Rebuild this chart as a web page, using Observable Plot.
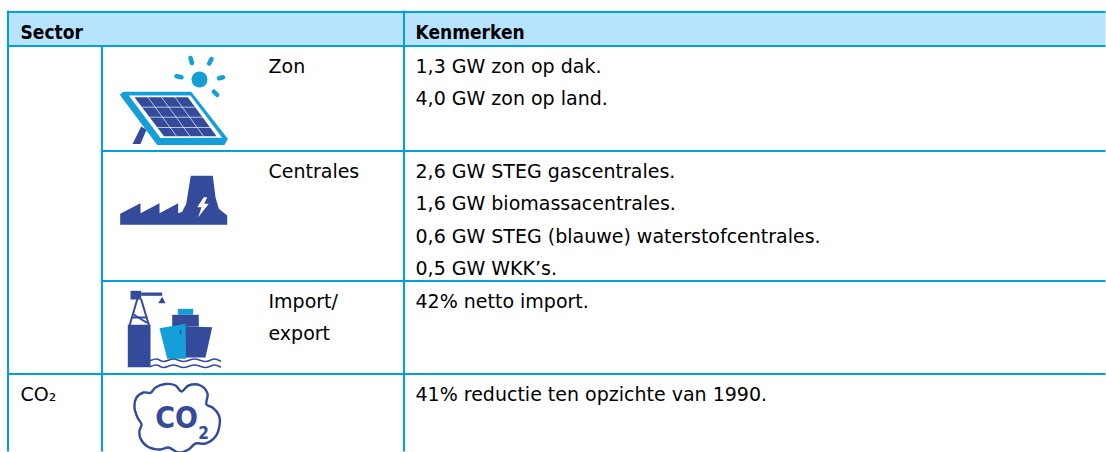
<!DOCTYPE html>
<html><head><meta charset="utf-8">
<style>html,body{margin:0;padding:0;background:#fff}svg{display:block}</style>
<script src="https://cdn.jsdelivr.net/npm/d3@7"></script>
<script src="https://cdn.jsdelivr.net/npm/@observablehq/plot@0.6"></script>
</head><body><div id="chart"></div>
<script>
// Table text
const headers = ["Sector", "Kenmerken"];
const sectorLabels = ["CO₂"];
const categoryLabels = [["Zon"], ["Centrales"], ["Import/", "export"]];
const kenmerken = [
  ["1,3 GW zon op dak.", "4,0 GW zon op land."],
  ["2,6 GW STEG gascentrales.", "1,6 GW biomassacentrales.", "0,6 GW STEG (blauwe) waterstofcentrales.", "0,5 GW WKK’s."],
  ["42% netto import."],
  ["41% reductie ten opzichte van 1990."]
];
// Table geometry in chart units
const columnEdges = [8, 102, 404, 1106];
const rowEdges = [12, 46, 151, 281, 374, 452];
const sectorX = 20, categoryX = 268, kenmerkenX = 415;
const baselineOffset = 26, lineStep = 32.5;

const LINE = "#009FDF", HEAD = "#B8E3FF", DARK = "#344A9A", LIGHT = "#149FD9";
const font = "'DejaVu Sans',sans-serif";
const boldFont = "'DejaVu Sans Condensed','DejaVu Sans',sans-serif";

// Pictogram outlines
const solarOutline = [[119.3,94.3],[122.7,91.3],[190.7,91.3],[227.3,138.3],[224,144.5],[156.7,144.5]];
const solarInner = [[128.3,95],[190,95],[221.7,137.3],[160,137.5]];
const solarCells = [[134,96.7],[187.3,96.7],[216,135.7],[163.5,135.7]];
const solarLeg = [[140.7,126],[146,129.3],[140,143.5],[132,143.5]];
const solarGrid = [
  [[147.3,96.7],[176,135.7]], [[161,96.7],[189.5,135.7]], [[174.5,96.7],[203,135.7]],
  [[141.6,106.7],[194.6,106.7]], [[149.2,116.7],[202,116.7]], [[157,127],[209.6,127]]
];
const sunRays = [
  [[190,57.5],[191.5,62.5]], [[211,58.5],[208.7,63]], [[176,75.8],[181,76.8]],
  [[218.5,77.8],[222.5,76.8]], [[213.3,91.2],[216.7,94.5]]
];
const sunCentre = [[199,79]];
const plantOutline = [[119.7,224.3],[119.7,213.3],[140,202.7],[140,212.7],[159,202.7],[159,212.7],[177.7,202.7],[177.7,212.7],[181.7,211.3],[185.7,203.3],[190.3,175.3],[212.3,175.3],[215,196.7],[218.3,208.3],[226.7,215],[226.7,224.3]];
const plantBolt = [[203.3,196.7],[196.7,206.7],[201,206.7],[197.7,216.7],[208.3,203.3],[203.7,203.3],[206.7,196.7]];
const towerBase = [[127.3,324.3],[150,324.3],[150,366.7],[127.3,366.7]];
const craneHead = [[130,290.3],[140.7,290.3],[140.7,299],[130,299]];
const craneArm = [[140.7,292],[161.7,292],[161.7,295.3],[140.7,295.3]];
const craneHook = [[161.7,296.3],[165,302.7],[157.7,302.7]];
const towerLines = [
  [[136.7,299],[129.3,324.3]], [[140.7,299],[148.3,324.3]],
  [[132,317],[146,317]], [[133,314],[146,322]]
];
const shipTop = [[177.3,308.3],[192.7,308.3],[192.7,314.3],[177.3,314.3]];
const shipBridge = [[171.7,314.3],[198.3,314.3],[198.3,326],[171.7,326]];
const shipHull = [[183,325.7],[211.7,326.7],[205,357],[185,357]];
const shipBow = [[159,327.7],[185,323.3],[185.7,358.3],[166.7,358.3]];
const shipWindow = [[180,329.5],[180,333]];
const waves = [
  [[150,360],[156,358.5],[163,361],[173,358.5],[183,361],[194,358.5],[205,361],[214,358.5],[220,360.5]],
  [[150,366],[156,364.5],[163,367],[173,364.5],[183,367],[194,364.5],[205,367],[214,364.5],[220,366.5]]
];
const cloud = [[134,407],[136,397],[143,392],[150,392.3],[155,387],[165,383.5],[175,385],[181,391],[188,385],[200,385],[207,393],[206,404],[212,407],[218.5,415],[219,425],[215,436],[205,443],[195,443],[188,449],[178,452],[168,447],[160,449],[147,446],[140,438],[139,430],[141,424],[137,417]];

const poly = (pts, fill) => Plot.line(pts, {x: d => d[0], y: d => d[1], fill, stroke: "none", curve: "linear-closed"});
const seg = (pts, stroke, strokeWidth, extra = {}) => Plot.line(pts, {x: d => d[0], y: d => d[1], stroke, strokeWidth, strokeLinecap: "round", ...extra});

const txt = [];
const add = (x, y, text) => txt.push({x, y, text});
categoryLabels.forEach((lines, i) => lines.forEach((t, j) => add(categoryX, rowEdges[i + 1] + baselineOffset + j * lineStep, t)));
kenmerken.forEach((lines, i) => lines.forEach((t, j) => add(kenmerkenX, rowEdges[i + 1] + baselineOffset + j * lineStep, t)));
add(sectorX, rowEdges[4] + baselineOffset, sectorLabels[0]);
const heads = [
  {x: sectorX, y: rowEdges[0] + baselineOffset, text: headers[0]},
  {x: kenmerkenX, y: rowEdges[0] + baselineOffset, text: headers[1]}
];

const hLines = [
  {y: rowEdges[0], x1: columnEdges[0], x2: columnEdges[3]},
  {y: rowEdges[1], x1: columnEdges[0], x2: columnEdges[3]},
  {y: rowEdges[2], x1: columnEdges[1], x2: columnEdges[3]},
  {y: rowEdges[3], x1: columnEdges[1], x2: columnEdges[3]},
  {y: rowEdges[4], x1: columnEdges[0], x2: columnEdges[3]}
];
const vLines = [
  {x: columnEdges[0], y1: rowEdges[0] - 1, y2: rowEdges[5]},
  {x: columnEdges[1], y1: rowEdges[1], y2: rowEdges[5]},
  {x: columnEdges[2], y1: rowEdges[0] - 1, y2: rowEdges[5]}
];

const chart = Plot.plot({
  width: 1106, height: 452, margin: 0,
  x: {domain: [0, 1106], range: [0, 1106], axis: null},
  y: {domain: [0, 452], range: [0, 452], axis: null},
  style: {background: "#fff"},
  marks: [
    Plot.rect([0], {x1: columnEdges[0], x2: columnEdges[3], y1: rowEdges[0], y2: rowEdges[1], fill: HEAD, dx: -0.5, dy: -0.5}),
    Plot.ruleY(hLines, {y: "y", x1: "x1", x2: "x2", stroke: LINE, strokeWidth: 2, dx: -0.5, dy: -0.5}),
    Plot.ruleX(vLines, {x: "x", y1: "y1", y2: "y2", stroke: LINE, strokeWidth: 2, dx: -0.5, dy: -0.5}),
    // solar panel
    poly(solarLeg, DARK), poly(solarOutline, LIGHT), poly(solarInner, "#fff"), poly(solarCells, DARK),
    ...solarGrid.map(s => seg(s, "#fff", 0.9, {strokeOpacity: 0.75})),
    Plot.dot(sunCentre, {x: d => d[0], y: d => d[1], r: 8, fill: LIGHT}),
    ...sunRays.map(s => seg(s, LIGHT, 4.5)),
    // power plant
    poly(plantOutline, DARK), poly(plantBolt, "#fff"),
    // import / export
    poly(towerBase, DARK), poly(craneHead, DARK), poly(craneArm, DARK), poly(craneHook, DARK),
    ...towerLines.map(s => seg(s, DARK, 2)),
    poly(shipTop, LIGHT), poly(shipBridge, DARK), poly(shipHull, DARK), poly(shipBow, LIGHT),
    seg(shipWindow, DARK, 1.5),
    ...waves.map(s => seg(s, DARK, 1.6, {curve: "catmull-rom"})),
    // CO2 cloud
    Plot.line(cloud, {x: d => d[0], y: d => d[1], stroke: DARK, strokeWidth: 2.4, curve: "catmull-rom-closed", clip: "frame"}),
    Plot.text(["CO"], {x: [176], y: [427], text: d => d, fontSize: 30, fontWeight: "bold", fill: DARK, fontFamily: boldFont, lineAnchor: "bottom"}),
    Plot.text(["2"], {x: [203], y: [438], text: d => d, fontSize: 17, fontWeight: "bold", fill: DARK, fontFamily: boldFont, lineAnchor: "bottom"}),
    // table text
    Plot.text(txt, {x: "x", y: "y", text: "text", fill: "#000", fontSize: 19, fontFamily: font, textAnchor: "start", lineAnchor: "bottom"}),
    Plot.text(heads, {x: "x", y: "y", text: "text", fill: "#000", fontSize: 19, fontWeight: "bold", fontFamily: boldFont, textAnchor: "start", lineAnchor: "bottom"})
  ]
});
document.getElementById("chart").append(chart);
</script></body></html>
